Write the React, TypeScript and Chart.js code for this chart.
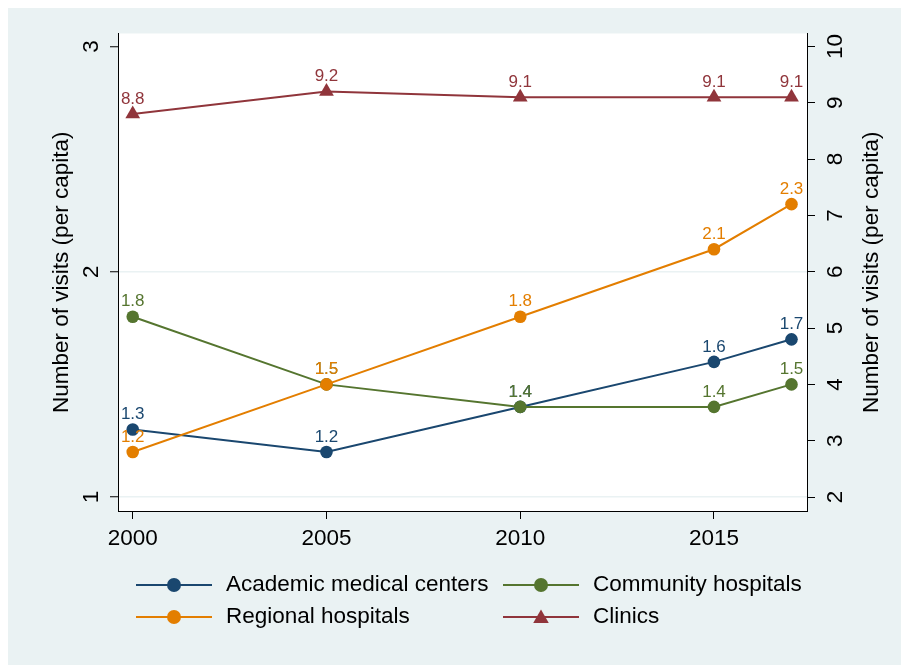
import React, { useEffect, useRef } from 'react';
import { Chart, registerables } from 'chart.js';

Chart.register(...registerables);

// ---- data ----
const years = [2000, 2005, 2010, 2015, 2017];
const academic = [1.3, 1.2, 1.4, 1.6, 1.7];
const community = [1.8, 1.5, 1.4, 1.4, 1.5];
const regional = [1.2, 1.5, 1.8, 2.1, 2.3];
const clinics = [8.8, 9.2, 9.1, 9.1, 9.1];
const xTicks = [2000, 2005, 2010, 2015];
const leftTicks = [1, 2, 3];
const rightTicks = [2, 3, 4, 5, 6, 7, 8, 9, 10];
const axisTitle = 'Number of visits (per capita)';
const seriesLabels = ['Academic medical centers', 'Community hospitals', 'Regional hospitals', 'Clinics'];

// ---- styles ----
const NAVY = '#1A476F';
const GREEN = '#55752F';
const ORANGE = '#E37E00';
const MAROON = '#90353B';
const BG = '#EAF2F3';
const FONT = "'Liberation Sans', Arial, Helvetica, sans-serif";

const W = 893;
const H = 657;

function drawMarker(ctx: CanvasRenderingContext2D, style: string, x: number, y: number, r: number, color: string) {
  ctx.fillStyle = color;
  ctx.beginPath();
  if (style === 'triangle') {
    ctx.moveTo(x, y - r);
    ctx.lineTo(x + Math.sin((2 * Math.PI) / 3) * r, y + r / 2);
    ctx.lineTo(x - Math.sin((2 * Math.PI) / 3) * r, y + r / 2);
    ctx.closePath();
  } else {
    ctx.arc(x, y, r, 0, Math.PI * 2);
  }
  ctx.fill();
}

const stataPlugin = {
  id: 'stataLook',
  beforeDraw(chart: any) {
    const { ctx, chartArea: a } = chart;
    const cw = chart.canvas.width;
    const ch = chart.canvas.height;
    ctx.save();
    ctx.fillStyle = BG;
    ctx.fillRect(0, 0, cw, ch);
    ctx.fillStyle = '#ffffff';
    ctx.fillRect(a.left, a.top, a.right - a.left, a.bottom - a.top);
    ctx.restore();
  },
  afterDatasetsDraw(chart: any) {
    const { ctx } = chart;
    ctx.save();
    ctx.font = `17px ${FONT}`;
    ctx.textAlign = 'center';
    ctx.textBaseline = 'middle';
    const drawOrder = [0, 1, 2, 3];
    drawOrder.forEach((i) => {
      const ds = chart.data.datasets[i];
      const meta = chart.getDatasetMeta(i);
      ctx.fillStyle = ds.borderColor;
      meta.data.forEach((pt: any, j: number) => {
        const v = (ds.data[j] as any).y as number;
        ctx.fillText(v.toFixed(1), pt.x, pt.y - 15);
      });
    });
    ctx.restore();
  },
  afterDraw(chart: any) {
    const { ctx, chartArea: a } = chart;
    const midY = (a.top + a.bottom) / 2;
    ctx.save();
    ctx.fillStyle = '#000';
    ctx.font = `22.5px ${FONT}`;
    ctx.textAlign = 'center';
    ctx.textBaseline = 'middle';
    ctx.save();
    ctx.translate(54, midY);
    ctx.rotate(-Math.PI / 2);
    ctx.fillText(axisTitle, 0, 0);
    ctx.restore();
    ctx.save();
    ctx.translate(864, midY);
    ctx.rotate(-Math.PI / 2);
    ctx.fillText(axisTitle, 0, 0);
    ctx.restore();

    const colX = [128, 495];
    const rowY = [577, 609];
    const layout = [
      { ds: 0, col: 0, row: 0 },
      { ds: 1, col: 1, row: 0 },
      { ds: 2, col: 0, row: 1 },
      { ds: 3, col: 1, row: 1 },
    ];
    layout.forEach(({ ds, col, row }) => {
      const d = chart.data.datasets[ds];
      const x = colX[col];
      const y = rowY[row];
      ctx.strokeStyle = d.borderColor;
      ctx.lineWidth = 2;
      ctx.beginPath();
      ctx.moveTo(x, y);
      ctx.lineTo(x + 76, y);
      ctx.stroke();
      const isTri = d.pointStyle === 'triangle';
      drawMarker(ctx, isTri ? 'triangle' : 'circle', x + 38, isTri ? y + 1.5 : y, isTri ? 9 : 7, d.borderColor);
      ctx.fillStyle = '#000';
      ctx.textAlign = 'left';
      ctx.textBaseline = 'middle';
      ctx.fillText(d.label, x + 90, y);
    });
    ctx.restore();
  },
};

function toPoints(vals: number[]) {
  return vals.map((v, i) => ({ x: years[i], y: v }));
}

export default function App() {
  const ref = useRef<HTMLCanvasElement>(null);

  useEffect(() => {
    if (!ref.current) return;
    const tickFont = { family: FONT, size: 22.5 };
    const chart = new Chart(ref.current, {
      type: 'line',
      data: {
        datasets: [
          {
            label: seriesLabels[0],
            data: toPoints(academic),
            borderColor: NAVY,
            backgroundColor: NAVY,
            pointRadius: 6.3,
            pointStyle: 'circle',
            yAxisID: 'y',
            order: 4,
          },
          {
            label: seriesLabels[1],
            data: toPoints(community),
            borderColor: GREEN,
            backgroundColor: GREEN,
            pointRadius: 6.3,
            pointStyle: 'circle',
            yAxisID: 'y',
            order: 3,
          },
          {
            label: seriesLabels[2],
            data: toPoints(regional),
            borderColor: ORANGE,
            backgroundColor: ORANGE,
            pointRadius: 6.3,
            pointStyle: 'circle',
            yAxisID: 'y',
            order: 2,
          },
          {
            label: seriesLabels[3],
            data: toPoints(clinics),
            borderColor: MAROON,
            backgroundColor: MAROON,
            pointRadius: 8.5,
            pointStyle: 'triangle',
            yAxisID: 'y1',
            order: 1,
          },
        ] as any,
      },
      options: {
        animation: false,
        responsive: false,
        devicePixelRatio: 1,
        events: [],
        layout: { padding: { top: 24, left: 0, right: 0, bottom: 0 } },
        elements: {
          line: { tension: 0, borderWidth: 2, fill: false },
          point: { borderWidth: 0, hoverRadius: 0 },
        },
        plugins: {
          legend: { display: false },
          tooltip: { enabled: false },
          title: { display: false },
        },
        scales: {
          x: {
            type: 'linear',
            position: 'bottom',
            min: 1999.62,
            max: 2017.4,
            afterBuildTicks: (s: any) => {
              s.ticks = xTicks.map((v) => ({ value: v }));
            },
            afterFit: (s: any) => {
              s.height = 154;
            },
            grid: { drawOnChartArea: false, drawTicks: true, tickLength: 8, tickColor: '#000', tickWidth: 1 },
            border: { display: true, color: '#000', width: 1 },
            ticks: {
              font: tickFont,
              color: '#000',
              padding: 6,
              maxRotation: 0,
              autoSkip: false,
              callback: (v: any) => String(v),
            },
          },
          y: {
            type: 'linear',
            position: 'left',
            min: 0.938,
            max: 3.0575,
            afterBuildTicks: (s: any) => {
              s.ticks = leftTicks.map((v) => ({ value: v }));
            },
            afterFit: (s: any) => {
              s.width = 110;
            },
            grid: {
              drawOnChartArea: true,
              drawTicks: true,
              tickLength: 8,
              tickColor: '#000',
              tickWidth: 1,
              lineWidth: 1.5,
              color: (c: any) => (c.tick && c.tick.value === 3 ? 'rgba(0,0,0,0)' : BG),
            },
            border: { display: true, color: '#000', width: 1 },
            ticks: {
              font: tickFont,
              color: '#000',
              minRotation: 90,
              maxRotation: 90,
              crossAlign: 'center',
              padding: 12,
              autoSkip: false,
              callback: (v: any) => String(v),
            },
          },
          y1: {
            type: 'linear',
            position: 'right',
            min: 1.752,
            max: 10.23,
            afterBuildTicks: (s: any) => {
              s.ticks = rightTicks.map((v) => ({ value: v }));
            },
            afterFit: (s: any) => {
              s.width = 94;
            },
            grid: { drawOnChartArea: false, drawTicks: true, tickLength: 8, tickColor: '#000', tickWidth: 1 },
            border: { display: true, color: '#000', width: 1 },
            ticks: {
              font: tickFont,
              color: '#000',
              minRotation: 90,
              maxRotation: 90,
              crossAlign: 'center',
              padding: 8,
              autoSkip: false,
              callback: (v: any) => String(v),
            },
          },
        },
      } as any,
      plugins: [stataPlugin as any],
    });
    return () => chart.destroy();
  }, []);

  return (
    <div style={{ position: 'fixed', left: 8, top: 8, right: 0, bottom: 0, background: BG, overflow: 'hidden' }}>
      <canvas ref={ref} width={W} height={H} style={{ display: 'block', width: W, height: H }} />
    </div>
  );
}
